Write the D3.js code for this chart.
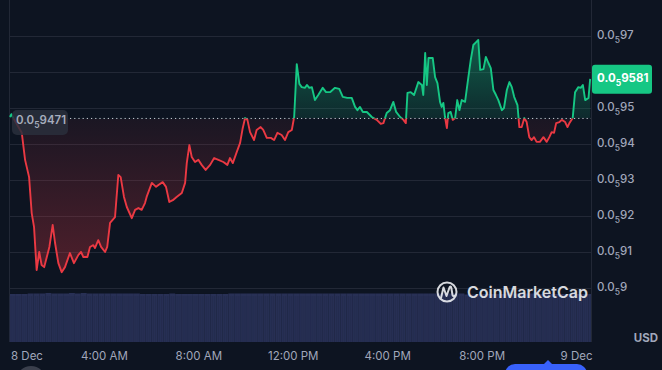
<!DOCTYPE html>
<html>
<head>
<meta charset="utf-8">
<script src="https://cdn.jsdelivr.net/npm/d3@7"></script>
<style>
  html, body { margin: 0; padding: 0; background: #0d1421; overflow: hidden; }
  svg { display: block; font-family: Inter, "Noto Sans", sans-serif; }
</style>
</head>
<body>
<div id="chart"></div>
<script>
// price is shown as 0.0₅xxxx, values below are the mantissa (9471 -> 0.0₅9471)
const hours = [0.02,0.08,0.19,0.52,0.66,0.83,0.94,1.04,1.15,1.26,1.36,1.47,1.58,1.69,1.83,1.93,2.07,2.21,2.35,2.56,
  2.73,2.92,3.03,3.13,3.30,3.41,3.55,3.62,3.76,3.88,4.05,4.14,4.26,4.47,4.61,4.71,4.85,4.97,5.18,5.32,
  5.46,5.60,5.74,5.81,6.03,6.21,6.31,6.49,6.63,6.77,6.92,7.08,7.30,7.44,7.51,7.62,7.72,7.86,8.00,8.14,
  8.31,8.50,8.67,8.85,9.06,9.23,9.34,9.46,9.63,9.77,9.88,9.98,10.08,10.19,10.36,10.47,10.64,10.75,10.90,11.07,
  11.21,11.35,11.53,11.67,11.81,11.96,12.06,12.17,12.28,12.38,12.52,12.60,12.70,12.81,12.94,13.08,13.27,13.41,13.58,13.79,
  13.97,14.12,14.31,14.50,14.64,14.74,14.85,14.97,15.14,15.35,15.56,15.73,15.84,15.98,16.12,16.26,16.38,16.55,16.69,16.79,
  16.86,17.00,17.14,17.32,17.47,17.53,17.61,17.68,17.75,17.93,18.03,18.13,18.24,18.31,18.38,18.45,18.53,18.59,18.69,18.78,
  18.88,18.97,19.06,19.16,19.30,19.44,19.54,19.65,19.77,19.86,19.94,20.08,20.18,20.29,20.39,20.50,20.61,20.71,20.86,20.95,
  21.07,21.18,21.28,21.38,21.52,21.60,21.70,21.81,21.91,22.02,22.12,22.22,22.33,22.47,22.62,22.76,22.87,22.97,23.07,23.16,
  23.30,23.40,23.54,23.64,23.72,23.86,23.96,24.10,24.20,24.29,24.39,24.53,24.60];

const prices = [9475,9483,9469,9431,9356,9308,9208,9169,9050,9100,9064,9058,9086,9114,9175,9125,9069,9044,9058,9097,
  9069,9092,9100,9086,9086,9114,9119,9111,9133,9114,9100,9114,9181,9197,9314,9308,9253,9225,9194,9217,
  9222,9217,9236,9253,9292,9281,9286,9294,9281,9239,9244,9253,9264,9292,9347,9397,9364,9350,9356,9342,
  9328,9342,9361,9356,9350,9342,9361,9347,9378,9403,9444,9472,9467,9433,9411,9439,9447,9439,9417,9417,
  9411,9431,9425,9411,9433,9439,9475,9622,9567,9558,9556,9564,9556,9558,9522,9536,9556,9544,9544,9556,
  9553,9531,9528,9528,9503,9494,9503,9489,9489,9475,9467,9456,9458,9486,9494,9517,9489,9475,9467,9458,
  9542,9544,9536,9572,9564,9536,9653,9564,9639,9639,9586,9569,9517,9503,9514,9475,9444,9486,9489,9467,
  9472,9522,9494,9522,9517,9586,9633,9675,9683,9689,9606,9608,9642,9625,9611,9550,9536,9522,9494,9500,
  9550,9572,9558,9531,9508,9447,9447,9472,9461,9419,9411,9419,9406,9406,9419,9406,9419,9433,9431,9458,
  9461,9467,9461,9447,9458,9472,9544,9558,9556,9564,9522,9528,9581];

// volume, one bar per 15 min (relative height)
const volumes = [97,97,97,98,98,98,99,98,98,98,99,98,99,98,98,98,98,98,98,98,
  98,98,97,97,97,97,97,98,97,97,97,97,97,97,97,97,97,98,98,98,
  98,98,98,98,98,98,98,98,98,98,98,98,98,98,98,98,98,98,98,98,
  98,98,98,98,98,98,98,98,98,98,98,98,98,98,98,98,98,96,96,96,
  97,97,97,97,98,98,98,98,98,97,97,97,97,97,97,97,97,97,97];

const openPrice = 9471;
const lastPrice = 9581;
const priceTicks = [9000, 9100, 9200, 9300, 9400, 9500, 9600, 9700];
const priceTickLabels = ["9", "91", "92", "93", "94", "95", "96", "97"];
const timeTicks = [0, 4, 8, 12, 16, 20, 24];
const timeTickLabels = ["8 Dec", "4:00 AM", "8:00 AM", "12:00 PM", "4:00 PM", "8:00 PM", "9 Dec"];

const width = 662;
const height = 370;
const plotLeft = 10, plotRight = 591;

const day0 = new Date(2023, 11, 8);
const toDate = h => new Date(day0.getTime() + h * 3600e3);
const data = hours.map((h, i) => ({ t: toDate(h), v: prices[i] }));

const x = d3.scaleTime()
  .domain([toDate(0), toDate(24)])
  .range([9.5, 576]);

const y = d3.scaleLinear()
  .domain([9500, 9700])
  .range([108, 36]);

const yVol = d3.scaleLinear()
  .domain([0, 99])
  .range([342, 293]);

const svg = d3.select("#chart").append("svg")
  .attr("width", width)
  .attr("height", height);

svg.append("rect").attr("width", width).attr("height", height).attr("fill", "#0d1421");

const defs = svg.append("defs");
const baseY = y(openPrice);

defs.append("clipPath").attr("id", "clip-up")
  .append("rect").attr("x", 0).attr("y", 0).attr("width", plotRight).attr("height", baseY);
defs.append("clipPath").attr("id", "clip-down")
  .append("rect").attr("x", 0).attr("y", baseY).attr("width", plotRight).attr("height", height - baseY);

const gUp = defs.append("linearGradient").attr("id", "grad-up")
  .attr("gradientUnits", "userSpaceOnUse")
  .attr("x1", 0).attr("x2", 0).attr("y1", y(9700)).attr("y2", baseY);
gUp.append("stop").attr("offset", "0%").attr("stop-color", "#16c784").attr("stop-opacity", 0.42);
gUp.append("stop").attr("offset", "100%").attr("stop-color", "#16c784").attr("stop-opacity", 0.12);

const gDown = defs.append("linearGradient").attr("id", "grad-down")
  .attr("gradientUnits", "userSpaceOnUse")
  .attr("x1", 0).attr("x2", 0).attr("y1", baseY).attr("y2", y(9040));
gDown.append("stop").attr("offset", "0%").attr("stop-color", "#ea3943").attr("stop-opacity", 0.06);
gDown.append("stop").attr("offset", "100%").attr("stop-color", "#ea3943").attr("stop-opacity", 0.3);

// grid
svg.append("g")
  .selectAll("line")
  .data(priceTicks)
  .enter()
  .append("line")
  .attr("x1", plotLeft)
  .attr("x2", plotRight)
  .attr("y1", d => Math.round(y(d)) + 0.5)
  .attr("y2", d => Math.round(y(d)) + 0.5)
  .attr("stroke", "#222836")
  .attr("stroke-width", 1);

// plot borders
svg.append("line").attr("x1", plotLeft - 0.5).attr("x2", plotLeft - 0.5).attr("y1", 0).attr("y2", 342)
  .attr("stroke", "#222836");
svg.append("line").attr("x1", plotRight + 0.5).attr("x2", plotRight + 0.5).attr("y1", 0).attr("y2", 342)
  .attr("stroke", "#222836");

// volume bars
const barW = (x(toDate(0.25)) - x(toDate(0)));
const volG = svg.append("g");
volG.selectAll("rect")
  .data(volumes)
  .enter()
  .append("rect")
  .attr("x", (d, i) => x(toDate(i * 0.25)) + 0.5)
  .attr("y", d => yVol(d))
  .attr("width", (d, i) => Math.min(barW, plotRight - x(toDate(i * 0.25)) - 0.5))
  .attr("height", d => yVol(0) - yVol(d))
  .attr("fill", "#283055");
// faint stripes inside the volume block
volG.selectAll("line")
  .data(d3.range(0, 24.6, 1 / 12))
  .enter()
  .append("line")
  .attr("x1", d => x(toDate(d)) + 0.5)
  .attr("x2", d => x(toDate(d)) + 0.5)
  .attr("y1", 296)
  .attr("y2", 342)
  .attr("stroke", "#222a4a")
  .attr("stroke-width", 0.6);

// areas
const area = d3.area()
  .x(d => x(d.t))
  .y0(baseY)
  .y1(d => y(d.v));

const line = d3.line()
  .x(d => x(d.t))
  .y(d => y(d.v));

svg.append("path").datum(data).attr("d", area)
  .attr("fill", "url(#grad-up)").attr("clip-path", "url(#clip-up)");
svg.append("path").datum(data).attr("d", area)
  .attr("fill", "url(#grad-down)").attr("clip-path", "url(#clip-down)");

// baseline (open price)
svg.append("line")
  .attr("x1", 70).attr("x2", plotRight)
  .attr("y1", baseY).attr("y2", baseY)
  .attr("stroke", "#c8ccd6")
  .attr("stroke-width", 1)
  .attr("stroke-dasharray", "1.2,3");

svg.append("path").datum(data).attr("d", line)
  .attr("fill", "none").attr("stroke", "#16c784").attr("stroke-width", 1.9)
  .attr("stroke-linejoin", "round").attr("clip-path", "url(#clip-up)");
svg.append("path").datum(data).attr("d", line)
  .attr("fill", "none").attr("stroke", "#ea3943").attr("stroke-width", 1.9)
  .attr("stroke-linejoin", "round").attr("clip-path", "url(#clip-down)");

// subscript price text: 0.0₅xxxx
function priceText(sel, mant, size, sub) {
  sel.append("tspan").text("0.0");
  sel.append("tspan").attr("font-size", sub).attr("dy", size * 0.35).text("5");
  sel.append("tspan").attr("dy", -size * 0.35).text(mant);
}

// right price axis (the label under the last-price tag is hidden, as in the app)
const tagTop = y(lastPrice) - 14, tagBottom = y(lastPrice) + 15;
const axisG = svg.append("g");
priceTicks.forEach((p, i) => {
  if (y(p) > tagTop - 4 && y(p) < tagBottom + 4) return;
  const t = axisG.append("text")
    .attr("x", 597)
    .attr("y", y(p) + 3)
    .attr("fill", "#a1a7bb")
    .attr("font-size", 11.5)
    .attr("font-weight", 500);
  priceText(t, priceTickLabels[i], 11.5, 8.5);
});

svg.append("text")
  .attr("x", 658).attr("y", 342)
  .attr("text-anchor", "end")
  .attr("fill", "#a1a7bb")
  .attr("font-size", 11.5)
  .attr("font-weight", 700)
  .text("USD");

// last price tag
svg.append("rect")
  .attr("x", 592).attr("y", tagTop)
  .attr("width", 60).attr("height", tagBottom - tagTop)
  .attr("rx", 3)
  .attr("fill", "#16c784");
const tag = svg.append("text")
  .attr("x", 597).attr("y", y(lastPrice) + 3)
  .attr("fill", "#ffffff")
  .attr("font-size", 11.5)
  .attr("font-weight", 700);
priceText(tag, String(lastPrice), 11.5, 8.5);

// open price label
svg.append("rect")
  .attr("x", 12).attr("y", baseY - 8.5)
  .attr("width", 56).attr("height", 25)
  .attr("rx", 5)
  .attr("fill", "#2a2f3c")
  .attr("fill-opacity", 0.85);
const openT = svg.append("text")
  .attr("x", 16).attr("y", baseY + 6)
  .attr("fill", "#a6adbd")
  .attr("font-size", 11.5)
  .attr("font-weight", 600);
priceText(openT, String(openPrice), 11.5, 8.5);

// time axis
const xAxis = svg.append("g")
  .attr("transform", "translate(0,352)")
  .call(d3.axisBottom(x)
    .tickValues(timeTicks.map(toDate))
    .tickFormat((d, i) => timeTickLabels[i])
    .tickSize(0));
xAxis.select(".domain").remove();
xAxis.selectAll("text")
  .attr("fill", "#a1a7bb")
  .attr("font-size", 11.5)
  .attr("font-family", "Inter, 'Noto Sans', sans-serif")
  .attr("dy", "0.71em")
  .attr("y", 0);
xAxis.select(".tick text").attr("text-anchor", "start").attr("x", 1);

// watermark
const wm = svg.append("g").attr("opacity", 0.9);
wm.append("circle").attr("cx", 447).attr("cy", 292).attr("r", 9.5)
  .attr("fill", "none").attr("stroke", "#eceef2").attr("stroke-width", 2);
wm.append("path")
  .attr("d", "M441,298 L443.5,287.5 L446.5,296 L449.5,287.5 Q451,285 451.5,289 L452.5,295 Q453.5,297 455,295.5")
  .attr("fill", "none").attr("stroke", "#eceef2").attr("stroke-width", 2)
  .attr("stroke-linecap", "round").attr("stroke-linejoin", "round");
wm.append("text")
  .attr("x", 467).attr("y", 298)
  .attr("fill", "#eceef2")
  .attr("font-size", 16)
  .attr("font-weight", 600)
  .text("CoinMarketCap");

// cut-off controls at the bottom edge
svg.append("circle").attr("cx", 31).attr("cy", 381).attr("r", 15).attr("fill", "#3a3f4c");
svg.append("rect").attr("x", 505).attr("y", 364).attr("width", 82).attr("height", 20)
  .attr("rx", 10).attr("fill", "#3861fb");
svg.append("path").attr("d", "M543,365 L548,360 L553,365 Z").attr("fill", "#3861fb");
</script>
</body>
</html>
